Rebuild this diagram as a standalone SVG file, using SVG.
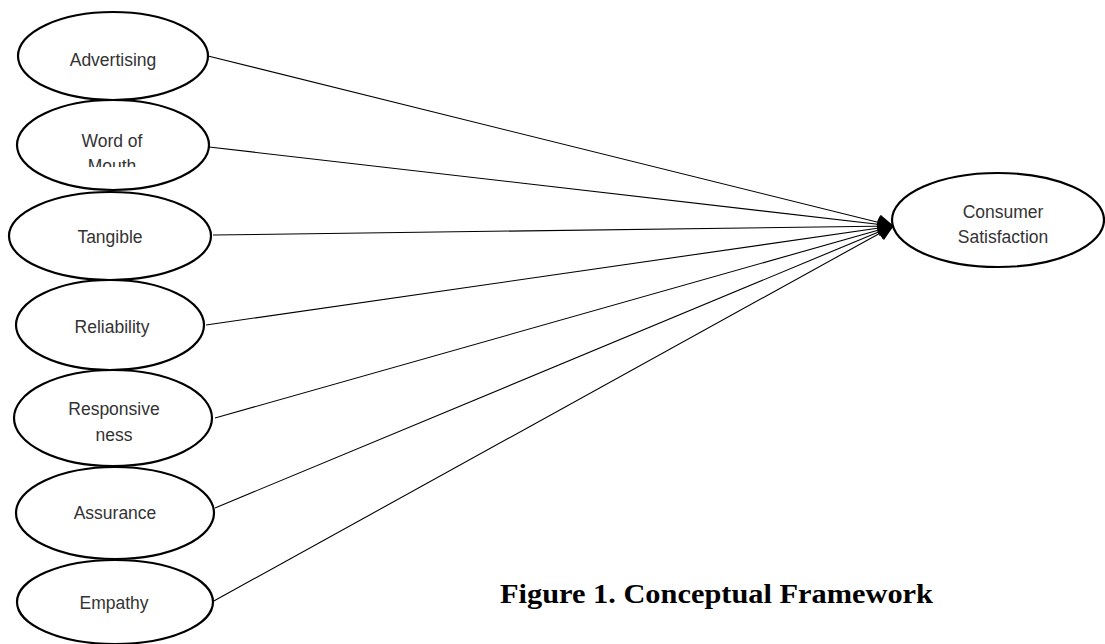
<svg xmlns="http://www.w3.org/2000/svg" width="1105" height="644" viewBox="0 0 1105 644">
<style>
.node ellipse{fill:#fff;stroke:#000;stroke-width:2.2}
.node text{font-family:"Liberation Sans",Arial,sans-serif;font-size:17.5px;fill:#333;text-anchor:middle}
.conn line{stroke:#000;stroke-width:1.1}
.title{font-family:"Liberation Serif","Times New Roman",serif;font-weight:bold;font-size:27px;fill:#000}
</style>
<defs>
<marker id="arr" markerUnits="userSpaceOnUse" markerWidth="16" markerHeight="16" refX="13" refY="7" orient="auto" viewBox="0 0 14 14">
<path d="M0,0 L14,7 L0,14 Z" fill="#000"/>
</marker>
<clipPath id="womclip"><rect x="0" y="0" width="300" height="167"/></clipPath>
</defs>
<rect width="1105" height="644" fill="#fff"/>
<g id="connectors" class="conn">
<line x1="208" y1="56" x2="893" y2="226" marker-end="url(#arr)"/>
<line x1="209" y1="147" x2="893" y2="226" marker-end="url(#arr)"/>
<line x1="213" y1="235" x2="893" y2="226" marker-end="url(#arr)"/>
<line x1="206" y1="325" x2="893" y2="226" marker-end="url(#arr)"/>
<line x1="215" y1="418" x2="893" y2="226" marker-end="url(#arr)"/>
<line x1="215" y1="508" x2="893" y2="226" marker-end="url(#arr)"/>
<line x1="212" y1="602" x2="893" y2="226" marker-end="url(#arr)"/>
</g>
<g id="advertising" class="node"><ellipse cx="113" cy="56" rx="95" ry="44"/><text x="113" y="66">Advertising</text></g>
<g id="word-of-mouth" class="node"><ellipse cx="113" cy="145" rx="96" ry="45"/><text x="112" y="147">Word of</text><text x="112" y="172" clip-path="url(#womclip)">Mouth</text></g>
<g id="tangible" class="node"><ellipse cx="110" cy="236" rx="101" ry="44"/><text x="110" y="243">Tangible</text></g>
<g id="reliability" class="node"><ellipse cx="110" cy="325" rx="94" ry="45"/><text x="112" y="333">Reliability</text></g>
<g id="responsiveness" class="node"><ellipse cx="113" cy="418" rx="99" ry="48"/><text x="114" y="415">Responsive</text><text x="114" y="441">ness</text></g>
<g id="assurance" class="node"><ellipse cx="115" cy="513" rx="99" ry="46"/><text x="115" y="519">Assurance</text></g>
<g id="empathy" class="node"><ellipse cx="115" cy="602" rx="98" ry="42"/><text x="114" y="609">Empathy</text></g>
<g id="consumer-satisfaction" class="node"><ellipse cx="998" cy="220" rx="106" ry="47"/><text x="1003" y="218">Consumer</text><text x="1003" y="243">Satisfaction</text></g>
<text class="title" x="500" y="603" textLength="433" lengthAdjust="spacingAndGlyphs">Figure 1. Conceptual Framework</text>
</svg>
